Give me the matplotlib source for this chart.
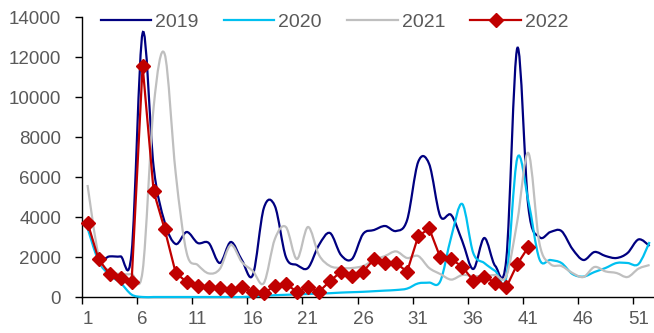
import numpy as np
import matplotlib.pyplot as plt
from matplotlib.path import Path
from matplotlib.patches import PathPatch

plt.rcParams['font.family'] = ['Liberation Sans', 'DejaVu Sans']

weeks = np.arange(1, 53)
weeks_2022 = np.arange(1, 42)

v2019 = [3650, 1950, 2030, 2030, 2200, 13200, 6500, 3750, 2650, 3250,
         2700, 2700, 1700, 2750, 1850, 1100, 4450, 4550, 2000, 1600,
         1450, 2600, 3200, 2100, 1900, 3150, 3350, 3550, 3300, 3850,
         6750, 6650, 4050, 4100, 2800, 1400, 2950, 1550, 1900, 12450,
         4500, 3000, 3250, 3300, 2400, 1850, 2250, 2050, 1950, 2200,
         2880, 2550]
v2020 = [3450, 1800, 1100, 700, 120, 0, 0, 0, 0, 0,
         0, 0, 0, 0, 0, 30, 60, 90, 110, 130,
         150, 170, 190, 220, 240, 260, 290, 320, 350, 420,
         680, 720, 780, 3000, 4650, 2200, 1700, 1300, 1000, 6950,
         4800, 1900, 1850, 1700, 1150, 1020, 1250, 1450, 1700, 1700,
         1650, 2750]
v2021 = [5600, 2100, 1300, 1150, 1150, 1300, 9500, 12150, 6200, 2200,
         1600, 1180, 1400, 2600, 1750, 1300, 700, 2900, 3500, 1900,
         3500, 2100, 1550, 1450, 1450, 1550, 1850, 2050, 2280, 1950,
         2050, 1450, 1150, 870, 1100, 1050, 1050, 1100, 1050, 3800,
         7200, 2700, 1650, 1550, 1200, 1000, 1500, 1280, 1200, 1000,
         1420, 1600]
v2022 = [3720, 1890, 1150, 950, 750, 11570, 5280, 3390, 1210, 750,
         560, 500, 460, 350, 485, 235, 185, 565, 650, 265,
         485, 265, 790, 1270, 1050, 1270, 1890, 1720, 1690, 1270,
         3030, 3430, 1990, 1890, 1520, 820, 1020, 720, 485, 1650,
         2500]

labels = ['2019', '2020', '2021', '2022']
colors = ['#000080', '#00C0F0', '#BFBFBF', '#C00000']
grey = '#595959'


def smooth_path(x, y):
    # excel style smoothed line: bezier segments through every point
    pts = np.column_stack([np.asarray(x, float), np.asarray(y, float)])
    p = np.vstack([pts[0], pts, pts[-1]])
    verts = [pts[0]]
    codes = [Path.MOVETO]
    for i in range(len(pts) - 1):
        p0, p1, p2, p3 = p[i], p[i + 1], p[i + 2], p[i + 3]
        verts += [p1 + (p2 - p0) / 6, p2 - (p3 - p1) / 6, p2]
        codes += [Path.CURVE4] * 3
    return Path(verts, codes)


fig = plt.figure(figsize=(6.54, 3.33), dpi=100)
ax = fig.add_axes([82 / 654, 36 / 333, 572 / 654, 280 / 333])

for vals, c, lab in zip([v2019, v2020, v2021], colors[:3], labels[:3]):
    ax.add_patch(PathPatch(smooth_path(weeks, vals), fill=False, edgecolor=c,
                           lw=1.6, clip_on=False, zorder=3))
    ax.plot([], [], color=c, lw=1.6, label=lab)

ax.plot(weeks_2022, v2022, color=colors[3], lw=1.6, marker='D', ms=7,
        label=labels[3], zorder=4, clip_on=False)

ax.set_xlim(0.5, 52.4)
ax.set_ylim(0, 14000)
ax.set_yticks(np.arange(0, 14001, 2000))
ax.set_xticks(np.arange(0.5, 52, 5))
ax.set_xticklabels([])
ax.set_xticks(np.arange(1, 53, 5), minor=True)
ax.set_xticklabels([str(w) for w in range(1, 53, 5)], minor=True)

for s in ['top', 'right']:
    ax.spines[s].set_visible(False)
for s in ['left', 'bottom']:
    ax.spines[s].set_color('black')
    ax.spines[s].set_linewidth(1.0)

ax.tick_params(axis='y', length=5, width=1, pad=10, labelsize=13.5, labelcolor=grey)
ax.tick_params(axis='x', which='major', length=5, width=1)
ax.tick_params(axis='x', which='minor', length=0, pad=10, labelsize=13.5, labelcolor=grey)

ax.legend(ncol=4, loc='center', bbox_to_anchor=(0.5115, 1 - 22 / 333),
          bbox_transform=fig.transFigure, frameon=False, fontsize=14,
          labelcolor=grey, handlelength=2.6, handletextpad=0.2,
          columnspacing=1.3)

plt.savefig('out.png', dpi=100)
